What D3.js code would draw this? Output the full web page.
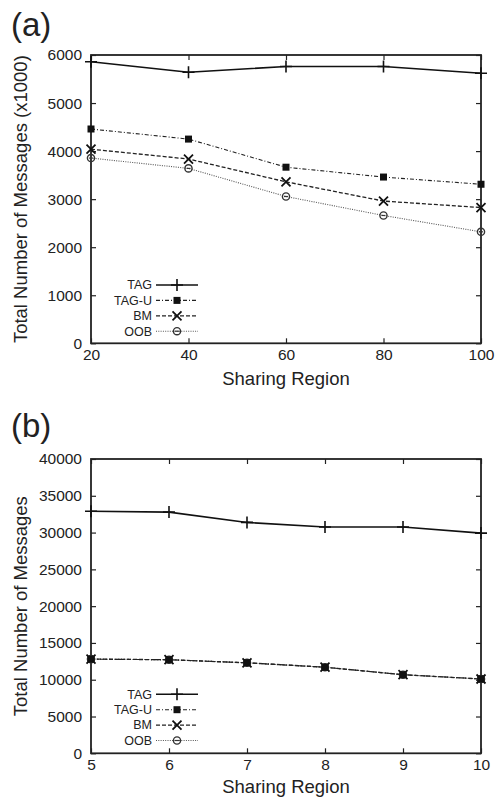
<!DOCTYPE html>
<html>
<head>
<meta charset="utf-8">
<script src="https://cdn.jsdelivr.net/npm/d3@7"></script>
<style>
  body { margin: 0; background: #fff; }
  svg { display: block; font-family: "Liberation Sans", Arial, Helvetica, sans-serif; }
  .tick text { font-size: 15.5px; fill: #222; }
  .tick line { stroke: #222; stroke-width: 1.2; }
</style>
</head>
<body>
<script>
// data paneel (a): totaal aantal berichten (x1000)
var regionA = [20, 40, 60, 80, 100];
var tagA = [5860, 5640, 5760, 5760, 5620];
var tagUA = [4460, 4250, 3665, 3460, 3310];
var bmA = [4040, 3835, 3360, 2960, 2825];
var oobA = [3855, 3640, 3055, 2660, 2320];
var xTicksA = [20, 40, 60, 80, 100];
var yTicksA = [0, 1000, 2000, 3000, 4000, 5000, 6000];

// data paneel (b): totaal aantal berichten
var regionB = [5, 6, 7, 8, 9, 10];
var tagB = [32900, 32780, 31380, 30750, 30750, 29930];
var tagUB = [12800, 12720, 12300, 11700, 10680, 10100];
var bmB = [12800, 12720, 12300, 11700, 10680, 10100];
var oobB = [12800, 12720, 12300, 11700, 10680, 10100];
var xTicksB = [5, 6, 7, 8, 9, 10];
var yTicksB = [0, 5000, 10000, 15000, 20000, 25000, 30000, 35000, 40000];

var seriesNames = ["TAG", "TAG-U", "BM", "OOB"];

// lijnstijl per reeks
var styles = {
  "TAG":   { dash: null,      width: 1.6, color: "#111", marker: "plus" },
  "TAG-U": { dash: "4,2,1,2", width: 1.1, color: "#222", marker: "square" },
  "BM":    { dash: "4,2",     width: 1.3, color: "#222", marker: "cross" },
  "OOB":   { dash: "1,1.3",   width: 1.1, color: "#555", marker: "circle" }
};

var svg = d3.select("body").append("svg")
  .attr("width", 495)
  .attr("height", 800);

function drawMarker(g, type, cx, cy) {
  if (type === "plus") {
    g.append("path").attr("d", "M" + (cx - 6) + "," + cy + "h12M" + cx + "," + (cy - 6) + "v12")
      .attr("stroke", "#111").attr("stroke-width", 1.6).attr("fill", "none");
  } else if (type === "square") {
    g.append("rect").attr("x", cx - 3.5).attr("y", cy - 3.5).attr("width", 7).attr("height", 7)
      .attr("fill", "#111");
  } else if (type === "cross") {
    g.append("path").attr("d", "M" + (cx - 4.5) + "," + (cy - 4.5) + "l9,9M" + (cx - 4.5) + "," + (cy + 4.5) + "l9,-9")
      .attr("stroke", "#111").attr("stroke-width", 1.8).attr("fill", "none");
  } else {
    g.append("circle").attr("cx", cx).attr("cy", cy).attr("r", 3.6)
      .attr("fill", "none").attr("stroke", "#333").attr("stroke-width", 1.4);
    g.append("path").attr("d", "M" + (cx - 2) + "," + cy + "h4")
      .attr("stroke", "#333").attr("stroke-width", 1.2);
  }
}

function panel(opts) {
  var left = 91, width = 390;
  var top = opts.top, height = opts.height;

  var x = d3.scaleLinear().domain(opts.xDomain).range([0, width]);
  var y = d3.scaleLinear().domain(opts.yDomain).range([height, 0]);
  var fmt = d3.format("d");

  var g = svg.append("g").attr("transform", "translate(" + left + "," + top + ")");

  // assen met ticks naar binnen, op alle vier de zijden
  g.append("g").attr("transform", "translate(0," + height + ")")
    .call(d3.axisBottom(x).tickValues(opts.xTicks).tickFormat(fmt).tickSize(-5).tickSizeOuter(0).tickPadding(6))
    .call(function(a) { a.select(".domain").remove(); });
  g.append("g")
    .call(d3.axisTop(x).tickValues(opts.xTicks).tickSize(-5).tickSizeOuter(0).tickFormat(""))
    .call(function(a) { a.select(".domain").remove(); });
  g.append("g")
    .call(d3.axisLeft(y).tickValues(opts.yTicks).tickFormat(fmt).tickSize(-5).tickSizeOuter(0).tickPadding(9))
    .call(function(a) { a.select(".domain").remove(); });
  g.append("g").attr("transform", "translate(" + width + ",0)")
    .call(d3.axisRight(y).tickValues(opts.yTicks).tickSize(-5).tickSizeOuter(0).tickFormat(""))
    .call(function(a) { a.select(".domain").remove(); });

  g.append("rect").attr("width", width).attr("height", height)
    .attr("fill", "none").attr("stroke", "#222").attr("stroke-width", 1.8);

  // lijnen en markers (omgekeerde volgorde zodat TAG-U bovenop ligt)
  var line = d3.line().x(function(d) { return x(d[0]); }).y(function(d) { return y(d[1]); });
  for (var i = opts.series.length - 1; i >= 0; i--) {
    var s = opts.series[i];
    var st = styles[seriesNames[i]];
    var pts = opts.xs.map(function(v, j) { return [v, s[j]]; });
    g.append("path").datum(pts).attr("d", line)
      .attr("fill", "none").attr("stroke", st.color).attr("stroke-width", st.width)
      .attr("stroke-dasharray", st.dash);
    var mg = g.append("g");
    pts.forEach(function(p) { drawMarker(mg, st.marker, x(p[0]), y(p[1])); });
  }

  // legenda
  var lg = svg.append("g");
  seriesNames.forEach(function(name, i) {
    var st = styles[name];
    var ly = opts.legendTop + i * 15.4;
    lg.append("text").attr("x", 152).attr("y", ly).attr("dy", "0.35em")
      .attr("text-anchor", "end").attr("font-size", 12.5).attr("fill", "#222").text(name);
    lg.append("line").attr("x1", 156).attr("x2", 198).attr("y1", ly).attr("y2", ly)
      .attr("stroke", st.color).attr("stroke-width", st.width).attr("stroke-dasharray", st.dash);
    drawMarker(lg, st.marker, 177, ly);
  });

  // titels
  svg.append("text").attr("x", left + width / 2).attr("y", opts.xTitleY)
    .attr("text-anchor", "middle").attr("font-size", 18.5).attr("fill", "#222").text("Sharing Region");
  svg.append("text").attr("transform", "translate(27," + (top + height / 2) + ") rotate(-90)")
    .attr("text-anchor", "middle").attr("font-size", 18.5).attr("fill", "#222").text(opts.yTitle);
  svg.append("text").attr("x", 11).attr("y", opts.labelY)
    .attr("font-size", 33).attr("fill", "#222").text(opts.label);
}

panel({
  top: 55, height: 288.3,
  xDomain: [20, 100], yDomain: [0, 6000],
  xTicks: xTicksA, yTicks: yTicksA,
  xs: regionA, series: [tagA, tagUA, bmA, oobA],
  legendTop: 285, xTitleY: 385, labelY: 36,
  yTitle: "Total Number of Messages (x1000)", label: "(a)"
});

panel({
  top: 459, height: 294.3,
  xDomain: [5, 10], yDomain: [0, 40000],
  xTicks: xTicksB, yTicks: yTicksB,
  xs: regionB, series: [tagB, tagUB, bmB, oobB],
  legendTop: 694.3, xTitleY: 793, labelY: 437,
  yTitle: "Total Number of Messages", label: "(b)"
});
</script>
</body>
</html>
